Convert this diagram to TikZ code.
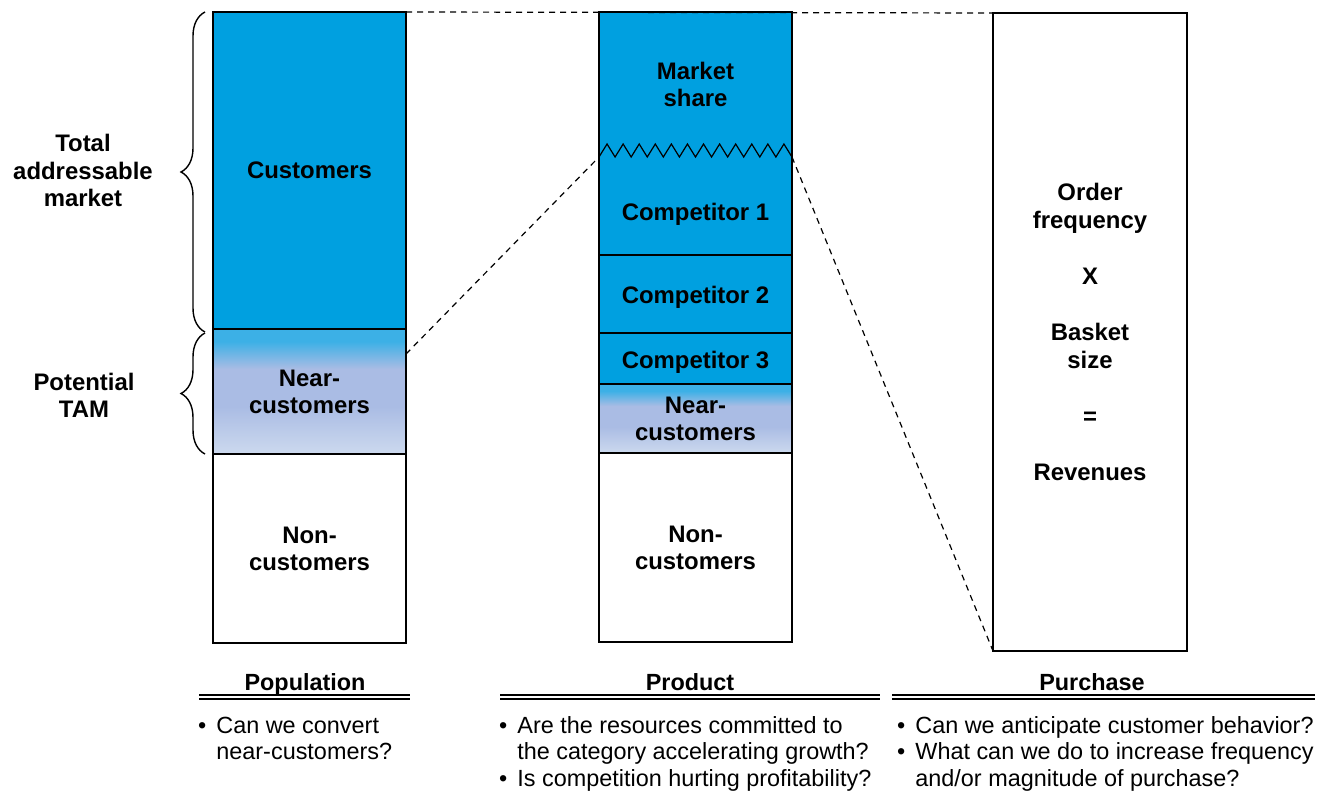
\documentclass[tikz,border=0pt]{standalone}
\usepackage{fontspec}
\setmainfont{Liberation Sans}
\usetikzlibrary{positioning, decorations.pathreplacing}
\definecolor{tamblue}{RGB}{0, 160, 224}
\definecolor{neartop}{RGB}{60, 176, 230}
\definecolor{nearmid}{RGB}{170, 188, 228}
\definecolor{nearbot}{RGB}{204, 217, 238}
\pgfdeclareverticalshading{nearshade}{100bp}{color(0bp)=(nearbot); color(25bp)=(nearbot); color(44bp)=(nearmid); color(59bp)=(nearmid); color(70bp)=(neartop); color(75bp)=(neartop); color(100bp)=(neartop)}

\begin{document}
\begin{tikzpicture}[x=1bp, y=-1bp,
    seg/.style={draw, line width=1.2bp, minimum width=193bp, inner sep=0pt, outer sep=0pt, align=center, font=\bfseries\fontsize{24}{27}\selectfont},
    nearseg/.style={seg, shade, shading=nearshade},
    lab/.style={align=center, font=\bfseries\fontsize{24}{27.5}\selectfont},
    head/.style={anchor=base, font=\bfseries\fontsize{23.5}{27}\selectfont},
    qlist/.style={anchor=base west, inner sep=0pt, font=\fontsize{23.5}{27}\selectfont},
    guide/.style={line width=1.2bp, dash pattern=on 6bp off 5bp},
    headrule/.style={double, double distance=2.4bp, line width=1.4bp},
    tambrace/.style={decorate, decoration={brace, amplitude=24bp}, line width=1.4bp}]
    \useasboundingbox (0,0) rectangle (1329,798);

    % population
    \node[seg, fill=tamblue, minimum height=317bp] (cust) at (309.5,170.5) {Customers};
    \node[nearseg, minimum height=125bp, below=0pt of cust] (near1) {Near-\\customers};
    \node[seg, minimum height=189bp, below=0pt of near1] (non1) {Non-\\customers};

    % product
    \node[seg, draw=none, fill=tamblue, minimum height=145bp] (share) at (695.5,84.5) {Market\\share};
    \node[seg, draw=none, fill=tamblue, minimum height=98bp, text height=33bp, below=0pt of share] (comp1) {Competitor 1};
    \node[seg, fill=tamblue, minimum height=78bp, text height=23bp, below=0pt of comp1] (comp2) {Competitor 2};
    \node[seg, fill=tamblue, minimum height=51bp, text height=25bp, below=0pt of comp2] (comp3) {Competitor 3};
    \node[nearseg, minimum height=69bp, below=0pt of comp3] (near2) {Near-\\customers};
    \node[seg, minimum height=189bp, below=0pt of near2] (non2) {Non-\\customers};
    \draw[line width=1.2bp] (share.north west) rectangle (non2.south east);
    \draw[line width=1.2bp] (share.south west) \foreach \i in {1,...,12} {-- ++(8.04,-13) -- ++(8.04,13)};

    % purchase
    \node[seg, minimum width=194bp, minimum height=638bp, font=\bfseries\fontsize{24}{28}\selectfont] (purch) at (1090,332)
        {Order\\frequency\\[28bp]X\\[28bp]Basket\\size\\[28bp]=\\[28bp]Revenues};

    % zoom lines
    \coordinate (nearcut) at ([yshift=-25bp]near1.north east);
    \draw[guide] (cust.north east) -- (purch.north west);
    \draw[guide] (nearcut) -- (share.south west);
    \draw[guide] (share.south east) -- (purch.south west);

    % braces
    \node[lab] (tamlab) at (83,170.5) {Total\\addressable\\market};
    \node[lab] (potlab) at (84,395.5) {Potential\\TAM};
    \draw[tambrace] ([xshift=-8bp,yshift=-3bp]cust.south west) -- ([xshift=-8bp]cust.north west);
    \draw[tambrace] ([xshift=-8bp]near1.south west) -- ([xshift=-8bp,yshift=-4bp]near1.north west);

    % questions
    \node[head] (pophead) at (305,690) {Population};
    \node[head] (prodhead) at (690,690) {Product};
    \node[head] (purchead) at (1092,690) {Purchase};
    \draw[headrule] (199,697) -- (410,697);
    \draw[headrule] (500,697) -- (880,697);
    \draw[headrule] (892,697) -- (1315,697);
    \node[qlist] (popq) at (198,733) {\begin{tabular}[t]{@{}l@{\hspace{10bp}}l@{}}\textbullet & Can we convert\\ & near-customers?\end{tabular}};
    \node[qlist] (prodq) at (499,733) {\begin{tabular}[t]{@{}l@{\hspace{10bp}}l@{}}\textbullet & Are the resources committed to\\ & the category accelerating growth?\\ \textbullet & Is competition hurting profitability?\end{tabular}};
    \node[qlist] (purcq) at (897,733) {\begin{tabular}[t]{@{}l@{\hspace{10bp}}l@{}}\textbullet & Can we anticipate customer behavior?\\ \textbullet & What can we do to increase frequency\\ & and/or magnitude of purchase?\end{tabular}};
\end{tikzpicture}
\end{document}
